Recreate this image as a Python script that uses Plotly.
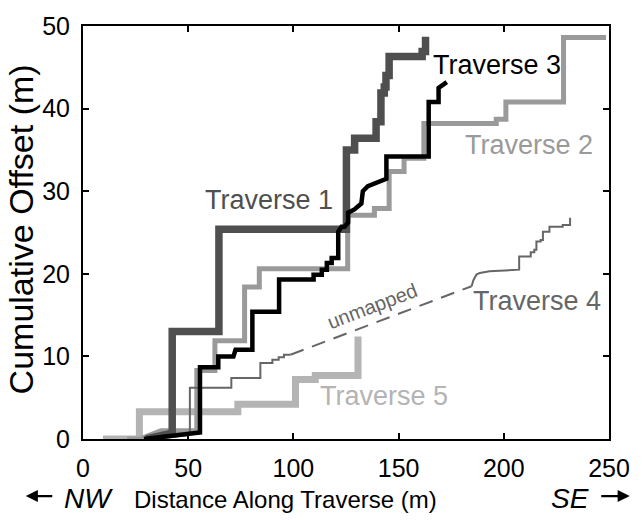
import plotly.graph_objects as go

# ---------------- data ----------------
t1_x = [30, 42.4, 42.4, 64.6, 64.6, 125.2, 125.2, 129.1, 129.1, 139.3, 139.3, 141.6, 141.6,
        143.2, 143.2, 144.0, 144.0, 145.5, 145.5, 161.2, 161.2, 162.8, 162.8]
t1_y = [0, 0.7, 13.0, 13.0, 25.4, 25.4, 35.0, 35.0, 36.4, 36.4, 38.4, 38.4, 41.9,
        41.9, 42.6, 42.6, 44.0, 44.0, 46.3, 46.3, 46.9, 46.9, 48.7]

t2_x = [21, 27, 37, 54.1, 54.1, 62.7, 62.7, 76.8, 76.8, 83.8, 83.8, 125.8, 125.8, 138.5,
        138.5, 145.5, 145.5, 152.6, 152.6, 162.0, 162.0, 196.4, 196.4, 201.0, 201.0, 228.4,
        228.4, 248.6]
t2_y = [0, 0, 1.0, 1.0, 8.3, 8.3, 11.9, 11.9, 18.4, 18.4, 20.6, 20.6, 27.1, 27.1,
        27.9, 27.9, 32.4, 32.4, 34.0, 34.0, 38.2, 38.2, 38.7, 38.7, 40.8, 40.8,
        48.6, 48.6]

t3_x = [29, 52, 55.6, 55.6, 64.3, 64.3, 71.5, 72.5, 80.5, 80.5,
        93.2, 93.2, 109.6, 109.6, 113.5, 113.5, 115.9, 115.9, 118.2, 118.2,
        121.3, 121.3, 122.9, 124.3, 126.0, 126.0, 129.0, 132.3, 133.0, 135.4,
        139.3, 140.9, 144.2, 144.2, 164.3, 164.3, 169.0, 169.0, 171.4, 172.9]
t3_y = [0, 0.7, 0.8, 8.7, 8.7, 10.0, 10.0, 10.8, 10.8, 15.4,
        15.4, 19.3, 19.3, 19.9, 19.9, 20.5, 20.5, 21.3, 21.3, 21.9,
        21.9, 25.1, 25.7, 25.7, 26.2, 27.4, 27.8, 28.5, 30.0, 30.6,
        31.0, 31.3, 31.5, 34.2, 34.2, 40.8, 40.8, 42.5, 42.9, 43.2]

t4a_x = [35, 50.8, 50.8, 70.5, 70.5, 84.3, 84.3, 90.0, 90.0, 93.0, 93.0, 95.5, 95.5, 98.6]
t4a_y = [0, 0.5, 6.2, 6.2, 7.4, 7.4, 9.2, 9.2, 9.6, 9.6, 9.9, 9.9, 10.2, 10.2]
t4_gap_x = [98.6, 184.7]
t4_gap_y = [10.2, 18.5]
t4b_x = [184.7, 185.5, 187.0, 188.6, 193.2, 207.3, 207.3, 212.8, 212.8, 214.5, 214.5, 215.5,
         215.5, 217.5, 217.5, 218.6, 218.6, 221.7, 221.7, 228.0, 228.0, 231.5, 231.5]
t4b_y = [18.5, 19.2, 19.9, 20.1, 20.3, 20.5, 22.1, 22.1, 22.6, 22.6, 22.9, 22.9,
         23.9, 23.9, 24.1, 24.1, 25.1, 25.1, 25.7, 25.7, 25.9, 25.9, 26.8]

t5_x = [9.5, 26.8, 26.8, 73.6, 73.6, 101.0, 101.0, 110.4, 110.4, 130.7, 130.7]
t5_y = [0, 0, 3.3, 3.3, 4.2, 4.2, 7.2, 7.2, 7.7, 7.7, 12.4]

label_text = ["Traverse 1", "Traverse 2", "Traverse 3", "Traverse 4", "Traverse 5"]
label_x = [88.6, 211.9, 196.9, 215.8, 143.1]
label_y = [28.93, 35.56, 45.27, 16.70, 5.20]

x_ticks = [0, 50, 100, 150, 200, 250]
y_ticks = [0, 10, 20, 30, 40, 50]

# ---------------- styles ----------------
C1, C2, C3, C4, C5 = "#4f4f4f", "#9a9a9a", "#000000", "#666666", "#b4b4b4"
FONT = "Liberation Sans, Arial, Helvetica, sans-serif"

fig = go.Figure()


def add_line(x, y, color, width, dash="solid"):
    fig.add_trace(go.Scatter(x=x, y=y, mode="lines",
                             line=dict(color=color, width=width, dash=dash),
                             hoverinfo="skip", showlegend=False))


add_line(t5_x, t5_y, C5, 7)
add_line(t2_x, t2_y, C2, 5)
add_line(t4a_x, t4a_y, C4, 2)
add_line(t4_gap_x, t4_gap_y, C4, 2, dash="14px,9px")
add_line(t4b_x, t4b_y, C4, 2)
add_line(t1_x, t1_y, C1, 7.5)
add_line(t3_x, t3_y, C3, 4.5)

label_colors = [C1, C2, C3, C4, C5]
annotations = []
for t, x, y, c in zip(label_text, label_x, label_y, label_colors):
    annotations.append(dict(x=x, y=y, xref="x", yref="y", text=t, showarrow=False,
                            font=dict(family=FONT, size=27, color=c),
                            xanchor="center", yanchor="middle"))

annotations.append(dict(x=137.6, y=16.1, xref="x", yref="y", text="unmapped",
                        showarrow=False, textangle=-21,
                        font=dict(family=FONT, size=20, color=C4)))


def px_x(p):
    return (p - 83) / 533.0


def px_y(p):
    return (439 - p) / 420.0


annotations += [
    dict(x=px_x(133), y=px_y(501), xref="paper", yref="paper",
         text="Distance Along Traverse (m)",
         showarrow=False, font=dict(family=FONT, size=24, color="black"),
         xanchor="left", yanchor="middle"),
    dict(x=px_x(20), y=px_y(226), xref="paper", yref="paper", text="Cumulative Offset (m)",
         showarrow=False, textangle=-90, font=dict(family=FONT, size=34, color="black"),
         xanchor="center", yanchor="middle"),
    dict(x=px_x(62), y=px_y(499), xref="paper", yref="paper", text="<i>NW</i>",
         showarrow=False, font=dict(family=FONT, size=28, color="black"),
         xanchor="left", yanchor="middle"),
    dict(x=px_x(598), y=px_y(499), xref="paper", yref="paper", text="<i>SE</i>",
         showarrow=False, font=dict(family=FONT, size=28, color="black"),
         xanchor="right", yanchor="middle"),
    # arrows
    dict(x=px_x(25), y=px_y(497), xref="paper", yref="paper", text="",
         showarrow=True, ax=28, ay=0, arrowhead=2, arrowsize=1.1, arrowwidth=2.2,
         arrowcolor="black", standoff=0, startstandoff=0),
    dict(x=px_x(637), y=px_y(497), xref="paper", yref="paper", text="",
         showarrow=True, ax=-30, ay=0, arrowhead=2, arrowsize=1.1, arrowwidth=2.2,
         arrowcolor="black", standoff=0, startstandoff=0),
]

axis_common = dict(showline=True, linecolor="black", linewidth=2, mirror="ticks",
                   ticks="inside", ticklen=6, tickwidth=1.5, tickcolor="black",
                   showgrid=False, zeroline=False,
                   tickfont=dict(family=FONT, size=25, color="black"))

fig.update_layout(
    width=642, height=520,
    margin=dict(l=83, r=26, t=19, b=81, pad=0),
    paper_bgcolor="white", plot_bgcolor="white",
    xaxis=dict(range=[0, 250], tickvals=x_ticks, ticklabelstandoff=6, **axis_common),
    yaxis=dict(range=[0, 50], tickvals=y_ticks, ticklabelstandoff=6, **axis_common),
    annotations=annotations,
    showlegend=False,
)

fig.write_html("out.html")
